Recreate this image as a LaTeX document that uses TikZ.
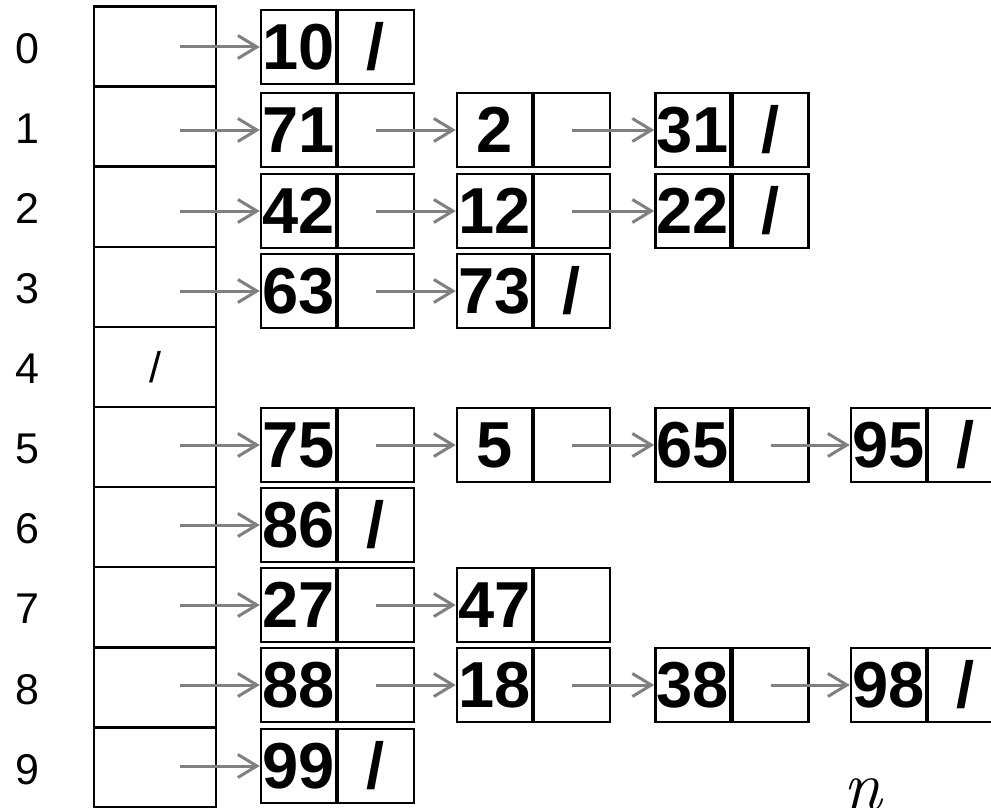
\documentclass[tikz,border=0pt]{standalone}
\usepackage{fontspec}
\setmainfont{Liberation Sans}
\newfontfamily\lmrfont{Latin Modern Roman}
\usetikzlibrary{arrows.meta}
\newcommand\cellpair[5]{%
  \node[vcell] (#1v) at (#2,#3) {#4};
  \node[pcell] (#1p) at ({#2+77.5},#3) {#5};
}
\begin{document}
\begin{tikzpicture}[x=1pt,y=-1pt,
  tcell/.style={draw, line width=2.5pt, minimum width=122pt, minimum height=80.1pt, inner sep=0pt, font=\fontsize{43}{43}\selectfont},
  vcell/.style={draw, line width=2.5pt, minimum width=75pt, minimum height=74pt, inner sep=0pt, font=\fontsize{65}{65}\selectfont\bfseries},
  pcell/.style={vcell, minimum width=76pt},
  idx/.style={font=\fontsize{43}{43}\selectfont},
  link/.style={draw=gray, line width=3pt, -{Straight Barb[length=19pt,width=23pt]}}
]
\useasboundingbox (0,0) rectangle (991,808);
\clip (0,0) rectangle (991,808);
% table
\foreach \i in {0,...,9}{
  \node[tcell] (t\i) at (155,{46.5+80.1*\i}) {\ifnum\i=4 /\fi};
  \node[idx] (l\i) at (27,{48.5+80.1*\i}) {\i};
}
% row 0
\cellpair{a0}{298.5}{47}{10}{/}
% row 1
\cellpair{a1}{298.5}{130}{71}{}
\cellpair{b1}{494.5}{130}{2}{}
\cellpair{c1}{693}{130}{31}{/}
% row 2
\cellpair{a2}{298.5}{211}{42}{}
\cellpair{b2}{494.5}{211}{12}{}
\cellpair{c2}{693}{211}{22}{/}
% row 3
\cellpair{a3}{298.5}{291}{63}{}
\cellpair{b3}{494.5}{291}{73}{/}
% row 5
\cellpair{a5}{298.5}{445}{75}{}
\cellpair{b5}{494.5}{445}{5}{}
\cellpair{c5}{693}{445}{65}{}
\cellpair{d5}{888.5}{445}{95}{/}
% row 6
\cellpair{a6}{298.5}{525}{86}{/}
% row 7
\cellpair{a7}{298.5}{605}{27}{}
\cellpair{b7}{494.5}{605}{47}{}
% row 8
\cellpair{a8}{298.5}{685}{88}{}
\cellpair{b8}{494.5}{685}{18}{}
\cellpair{c8}{693}{685}{38}{}
\cellpair{d8}{888.5}{685}{98}{/}
% row 9
\cellpair{a9}{298.5}{766}{99}{/}
% table -> first nodes
\foreach \i in {0,1,2,3,5,6,7,8,9}{
  \coordinate (s\i) at (180,0);
  \draw[link] (s\i |- a\i v.center) -- (a\i v.west);
}
% node -> node links
\draw[link] (a1p.center) -- (b1v.west);
\draw[link] (b1p.center) -- (c1v.west);
\draw[link] (a2p.center) -- (b2v.west);
\draw[link] (b2p.center) -- (c2v.west);
\draw[link] (a3p.center) -- (b3v.west);
\draw[link] (a5p.center) -- (b5v.west);
\draw[link] (b5p.center) -- (c5v.west);
\draw[link] (c5p.center) -- (d5v.west);
\draw[link] (a7p.center) -- (b7v.west);
\draw[link] (a8p.center) -- (b8v.west);
\draw[link] (b8p.center) -- (c8v.west);
\draw[link] (c8p.center) -- (d8v.west);
% n label
\node[anchor=base, inner sep=0pt, font=\lmrfont\itshape\fontsize{70}{70}\selectfont] (nlab) at (863,809) {n};
\end{tikzpicture}
\end{document}
